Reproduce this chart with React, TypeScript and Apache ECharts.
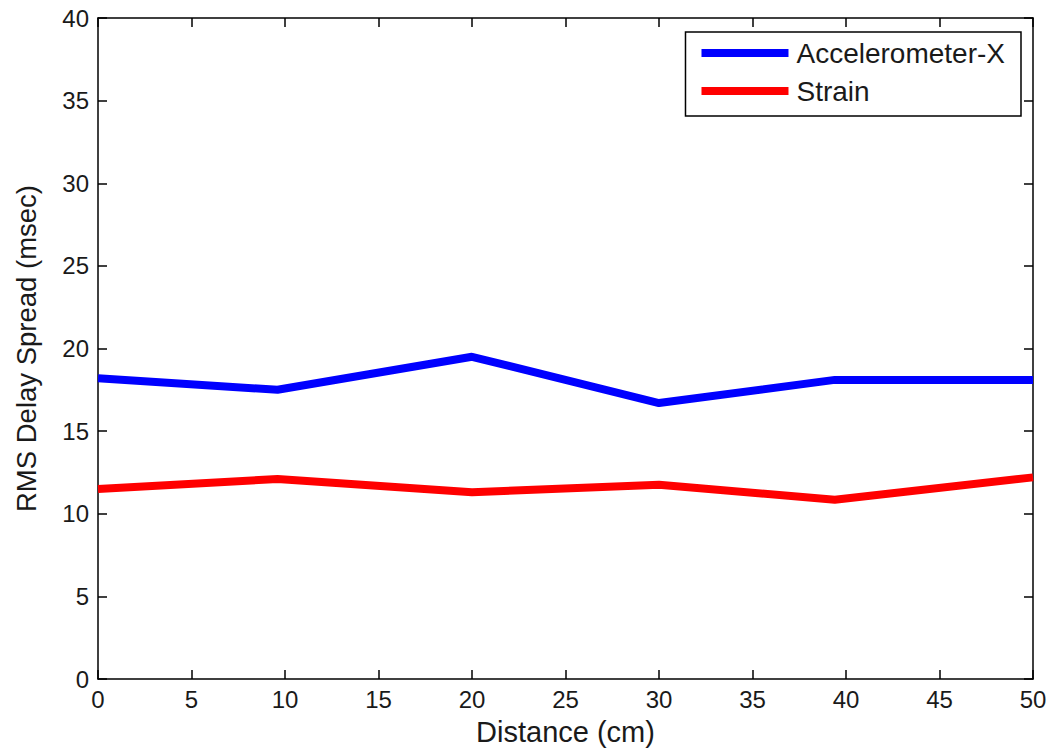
import React, { useEffect, useRef } from "react";
import * as echarts from "echarts";

const distances = [0, 9.6, 20, 30, 39.4, 50];
const accelX = [18.2, 17.5, 19.5, 16.7, 18.1, 18.1];
const strain = [11.5, 12.1, 11.3, 11.75, 10.85, 12.2];
const seriesNames = ["Accelerometer-X", "Strain"];
const xTitle = "Distance (cm)";
const yTitle = "RMS Delay Spread (msec)";

export default function App() {
  const ref = useRef<HTMLDivElement>(null);
  useEffect(() => {
    const chart = echarts.init(ref.current!, null, { renderer: "svg" });
    const font = "Liberation Sans, Arial, sans-serif";
    const mkLine = () => ({ show: true, onZero: false, lineStyle: { color: "#000", width: 1.5 } });
    const mkTick = () => ({ show: true, inside: true, length: 9, lineStyle: { color: "#000", width: 1.5 } });
    const pair = (ys: number[]) => distances.map((x, i) => [x, ys[i]]);
    chart.setOption({
      animation: false,
      backgroundColor: "#fff",
      grid: { left: 98, top: 18, right: 23, bottom: 75, containLabel: false },
      legend: {
        orient: "vertical",
        right: 35,
        top: 32,
        padding: [7, 16, 11, 16],
        itemGap: 10,
        itemWidth: 87,
        itemHeight: 8,
        icon: "rect",
        backgroundColor: "#fff",
        borderColor: "#000",
        borderWidth: 1.5,
        textStyle: { fontFamily: font, fontSize: 28, color: "#1a1a1a", padding: [0, 0, 0, 3] },
        data: seriesNames,
      },
      xAxis: [
        {
          type: "value",
          min: 0,
          max: 50,
          interval: 5,
          position: "bottom",
          name: xTitle,
          nameLocation: "middle",
          nameGap: 53,
          nameTextStyle: { fontFamily: font, fontSize: 29, color: "#1a1a1a", verticalAlign: "middle" },
          axisLine: mkLine(),
          axisTick: mkTick(),
          axisLabel: { fontFamily: font, fontSize: 24, color: "#1a1a1a", margin: 8 },
          splitLine: { show: false },
        },
        {
          type: "value",
          min: 0,
          max: 50,
          interval: 5,
          position: "top",
          axisLine: mkLine(),
          axisTick: mkTick(),
          axisLabel: { show: false },
          splitLine: { show: false },
        },
      ],
      yAxis: [
        {
          type: "value",
          min: 0,
          max: 40,
          interval: 5,
          position: "left",
          name: yTitle,
          nameLocation: "middle",
          nameGap: 72,
          nameRotate: 90,
          nameTextStyle: { fontFamily: font, fontSize: 27.5, color: "#1a1a1a", verticalAlign: "middle" },
          axisLine: mkLine(),
          axisTick: mkTick(),
          axisLabel: { fontFamily: font, fontSize: 24, color: "#1a1a1a", margin: 9 },
          splitLine: { show: false },
        },
        {
          type: "value",
          min: 0,
          max: 40,
          interval: 5,
          position: "right",
          axisLine: mkLine(),
          axisTick: mkTick(),
          axisLabel: { show: false },
          splitLine: { show: false },
        },
      ],
      series: [
        {
          name: seriesNames[0],
          type: "line",
          data: pair(accelX),
          showSymbol: false,
          color: "#0000ff",
          lineStyle: { color: "#0000ff", width: 8 },
        },
        {
          name: seriesNames[1],
          type: "line",
          data: pair(strain),
          showSymbol: false,
          color: "#ff0000",
          lineStyle: { color: "#ff0000", width: 8 },
        },
      ],
    });
    return () => chart.dispose();
  }, []);
  return (
    <div
      ref={ref}
      style={{ position: "absolute", left: 0, top: 0, width: 1056, height: 754, background: "#fff" }}
    />
  );
}
